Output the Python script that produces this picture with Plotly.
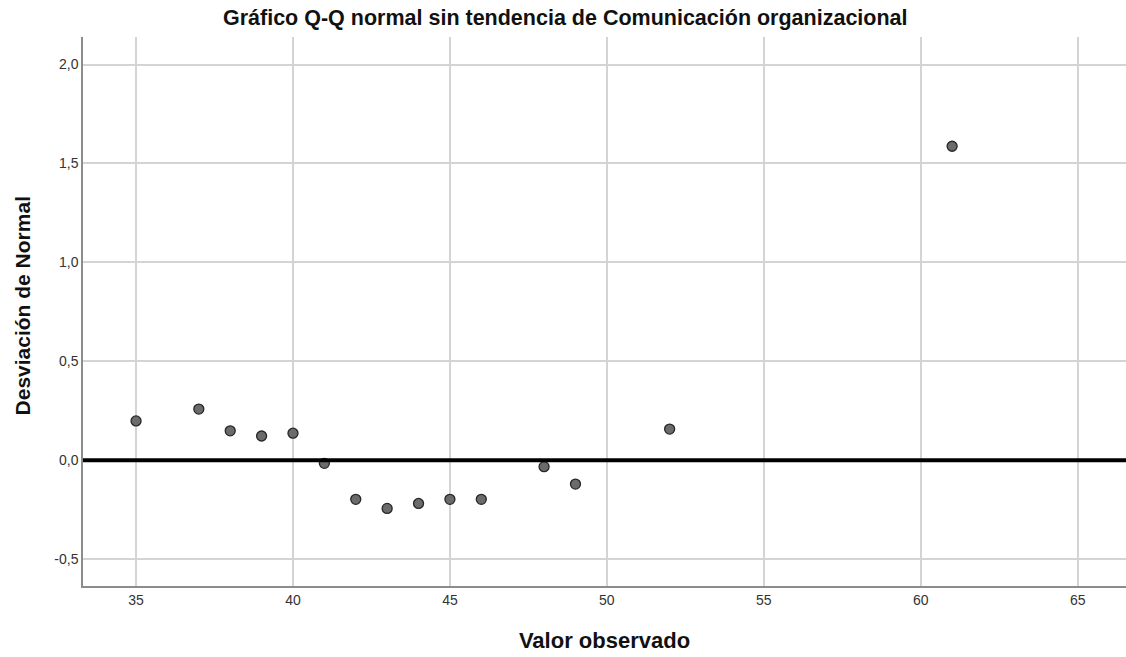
import plotly.graph_objects as go

observed = [35, 37, 38, 39, 40, 41, 42, 43, 44, 45, 46, 48, 49, 52, 61]
deviation = [0.199, 0.259, 0.149, 0.123, 0.137, -0.015, -0.197, -0.243, -0.218,
             -0.197, -0.197, -0.032, -0.120, 0.158, 1.587]

x_ticks = [35, 40, 45, 50, 55, 60, 65]
y_ticks = [-0.5, 0.0, 0.5, 1.0, 1.5, 2.0]
y_tick_labels = ["-0,5", "0,0", "0,5", "1,0", "1,5", "2,0"]

fig = go.Figure()

fig.add_shape(type="line", xref="paper", yref="y", x0=0, x1=1, y0=0, y1=0,
              line=dict(color="black", width=4), layer="above")

fig.add_trace(go.Scatter(
    x=observed, y=deviation, mode="markers",
    marker=dict(size=10, color="#6b6b6b", line=dict(color="#262626", width=1.3)),
    showlegend=False, hoverinfo="x+y"))

font = "Liberation Sans, Arial, sans-serif"

fig.add_annotation(text="<b>Desviación de Normal</b>", textangle=-90,
                   xref="paper", yref="paper", x=-0.0585, y=0.511,
                   xanchor="center", yanchor="middle", showarrow=False,
                   font=dict(size=21, family=font, color="#111111"))

fig.update_layout(
    width=1126, height=657,
    margin=dict(l=83, r=0, t=37, b=71),
    paper_bgcolor="white", plot_bgcolor="white",
    separators=",.",
    font=dict(family=font, color="#222222"),
    title=dict(text="<b>Gráfico Q-Q normal sin tendencia de Comunicación organizacional</b>",
               x=0.502, xanchor="center", y=0.973, yanchor="middle",
               font=dict(size=21.5, family=font, color="#111111")),
    xaxis=dict(range=[33.31, 66.54], tickvals=x_ticks, ticktext=[str(v) for v in x_ticks],
               showgrid=True, gridcolor="#d4d4d4", gridwidth=1.5,
               showline=True, linecolor="#8c8c8c", linewidth=1.5,
               zeroline=False, ticks="", tickfont=dict(size=14, color="#333333"),
               title=dict(text="<b>Valor observado</b>", standoff=26,
                          font=dict(size=22, family=font, color="#111111"))),
    yaxis=dict(range=[-0.635, 2.139], tickvals=y_ticks, ticktext=y_tick_labels,
               showgrid=True, gridcolor="#d4d4d4", gridwidth=1.5,
               showline=True, linecolor="#8c8c8c", linewidth=1.5,
               zeroline=False, ticks="", tickfont=dict(size=14, color="#333333")),
)

fig.write_html("out.html", config={"displayModeBar": False},
               post_script="document.body.style.margin='0';document.body.style.overflow='hidden';")
